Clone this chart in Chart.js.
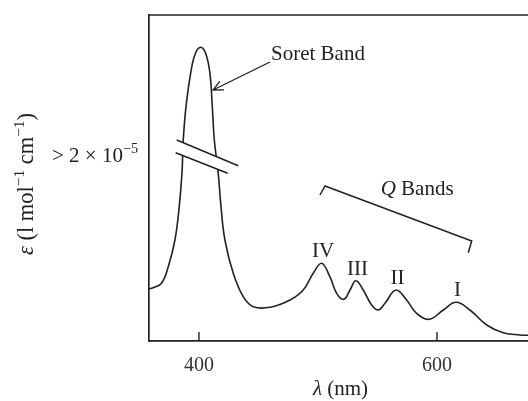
<!DOCTYPE html>
<html>
<head>
<meta charset="utf-8">
<script src="https://cdn.jsdelivr.net/npm/chart.js@4.4.1/dist/chart.umd.min.js"></script>
<style>
html,body{margin:0;padding:0;background:#fff;}
#wrap{width:528px;height:401px;}
</style>
</head>
<body>
<div id="wrap"><canvas id="spec"></canvas></div>
<script>
// wavelength (nm) and absorbance (arbitrary units)
var lambda = [358, 362, 368.7, 374.2, 379.8, 383.4, 385.7, 386.8, 389.1, 393, 396.8, 401.4, 405.8, 409.2, 411.2, 412.9, 416.2, 418.5, 421.8, 428.8, 437.2, 445.6, 459.7, 476.5, 487.6, 496, 503.1, 510, 515.7, 521.8, 526.9, 531.9, 538, 545.1, 550.7, 556.3, 565.5, 574.5, 582.9, 593.5, 605.3, 616, 627.7, 641.8, 655.7, 669.7, 676.5];
var absorb = [52, 53.5, 58, 74.3, 101, 134.3, 167.7, 201, 234.3, 267.7, 287, 293.7, 287, 267.7, 234.3, 201, 167.7, 134.3, 101, 67.7, 44.3, 34.3, 33.7, 41, 51, 67.7, 77.7, 64.3, 47.7, 41.7, 51, 60.3, 51, 36, 31, 37.7, 51, 41, 27.7, 21.7, 31, 38.7, 31, 16, 8.3, 6, 5.7];
var xTicks = [400, 600];
var bandNames = ["IV", "III", "II", "I"];
var bandPeaks = [503.1, 531.9, 565.5, 616];

var serif = "'Liberation Serif', 'DejaVu Serif', serif";
var ink = "#222";

var pts = [];
for (var i = 0; i < lambda.length; i++) {
    pts.push({x: lambda[i], y: absorb[i]});
}

// draws a line of text made of pieces: [text, style] where style is "", "i" or "sup"
function richText(ctx, parts, x, y, size, align) {
    function font(p) {
        if (p[1] == "sup") return (size * 0.68) + "px " + serif;
        if (p[1] == "i") return "italic " + size + "px " + serif;
        return size + "px " + serif;
    }
    var w = 0;
    parts.forEach(function (p) { ctx.font = font(p); w += ctx.measureText(p[0]).width; });
    var cx = align == "left" ? x : x - w / 2;
    ctx.textAlign = "left";
    ctx.textBaseline = "alphabetic";
    parts.forEach(function (p) {
        ctx.font = font(p);
        ctx.fillText(p[0], cx, p[1] == "sup" ? y - size * 0.42 : y);
        cx += ctx.measureText(p[0]).width;
    });
}

var annot = {
    id: "annot",
    afterDraw: function (chart) {
        var ctx = chart.ctx, xs = chart.scales.x, ys = chart.scales.y, a = chart.chartArea;
        var px = function (v) { return xs.getPixelForValue(v); };
        var py = function (v) { return ys.getPixelForValue(v); };
        ctx.save();
        ctx.strokeStyle = ink;
        ctx.fillStyle = ink;
        ctx.lineCap = "butt";

        // top frame line
        ctx.lineWidth = 1.7;
        ctx.beginPath();
        ctx.moveTo(a.left - 0.85, a.top);
        ctx.lineTo(a.right, a.top);
        ctx.stroke();

        // inward tick marks
        ctx.lineWidth = 1.4;
        xTicks.forEach(function (t) {
            ctx.beginPath();
            ctx.moveTo(px(t), a.bottom);
            ctx.lineTo(px(t), a.bottom - 9);
            ctx.stroke();
        });

        // axis break on the Soret peak
        ctx.fillStyle = "#fff";
        ctx.beginPath();
        ctx.moveTo(px(381.3), py(201));
        ctx.lineTo(px(433), py(175.3));
        ctx.lineTo(px(424.1), py(167.7));
        ctx.lineTo(px(380.4), py(188.3));
        ctx.closePath();
        ctx.fill();
        ctx.lineWidth = 1.5;
        ctx.beginPath();
        ctx.moveTo(px(381.3), py(201));
        ctx.lineTo(px(433), py(175.3));
        ctx.moveTo(px(380.4), py(188.3));
        ctx.lineTo(px(424.1), py(167.7));
        ctx.stroke();
        ctx.fillStyle = ink;

        // Soret Band label + arrow
        richText(ctx, [["Soret Band", ""]], px(460.5), py(281.5), 21, "left");
        var tx = px(459.7), ty = py(279), hx = px(411.8), hy = py(251);
        ctx.lineWidth = 1.3;
        ctx.beginPath();
        ctx.moveTo(tx, ty);
        ctx.lineTo(hx, hy);
        var ang = Math.atan2(ty - hy, tx - hx);
        ctx.moveTo(hx + 11 * Math.cos(ang - 0.44), hy + 11 * Math.sin(ang - 0.44));
        ctx.lineTo(hx, hy);
        ctx.lineTo(hx + 11 * Math.cos(ang + 0.44), hy + 11 * Math.sin(ang + 0.44));
        ctx.stroke();

        // Q bands bracket + label
        ctx.lineWidth = 1.5;
        ctx.beginPath();
        ctx.moveTo(px(501.7), py(146));
        ctx.lineTo(px(505.9), py(155));
        ctx.lineTo(px(629.2), py(100));
        ctx.lineTo(px(626.3), py(88.3));
        ctx.stroke();
        richText(ctx, [["Q", "i"], [" Bands", ""]], px(552.7), py(146), 21, "left");

        // band numerals above each peak
        bandPeaks.forEach(function (l, k) {
            var v = absorb[lambda.indexOf(l)];
            richText(ctx, [[bandNames[k], ""]], px(l) + 1.5, py(v) - 6, 21);
        });

        // axis titles
        richText(ctx, [["\u03bb", "i"], [" (nm)", ""]], (a.left + a.right) / 2 + 2, 395, 21);
        richText(ctx, [["> 2 \u00d7 10", ""], ["\u22125", "sup"]], 95, 162, 21);
        ctx.translate(33, 184);
        ctx.rotate(-Math.PI / 2);
        richText(ctx, [["\u03b5", "i"], [" (l mol", ""], ["\u22121", "sup"], [" cm", ""], ["\u22121", "sup"], [")", ""]], 0, 0, 22.5);
        ctx.restore();
    }
};

var chart = new Chart(document.getElementById("spec"), {
    type: "line",
    data: {
        datasets: [{
            data: pts,
            borderColor: ink,
            borderWidth: 1.6,
            pointRadius: 0,
            fill: false,
            tension: 0.4
        }]
    },
    options: {
        responsive: true,
        maintainAspectRatio: false,
        animation: false,
        events: [],
        layout: {padding: {top: 15, left: 0, right: 0, bottom: 0}},
        plugins: {legend: {display: false}, tooltip: {enabled: false}},
        scales: {
            x: {
                type: "linear",
                min: 358,
                max: 676.5,
                grid: {display: false},
                border: {display: true, color: ink, width: 1.7},
                afterBuildTicks: function (s) {
                    s.ticks = xTicks.map(function (v) { return {value: v}; });
                },
                afterFit: function (s) { s.height = 60; },
                ticks: {
                    color: "#333",
                    padding: 5,
                    maxRotation: 0,
                    font: {family: serif, size: 20},
                    callback: function (v) { return v; }
                }
            },
            y: {
                min: 0,
                max: 326,
                grid: {display: false},
                border: {display: true, color: ink, width: 1.7},
                ticks: {display: false},
                afterFit: function (s) { s.width = 149; }
            }
        }
    },
    plugins: [annot]
});
</script>
</body>
</html>
